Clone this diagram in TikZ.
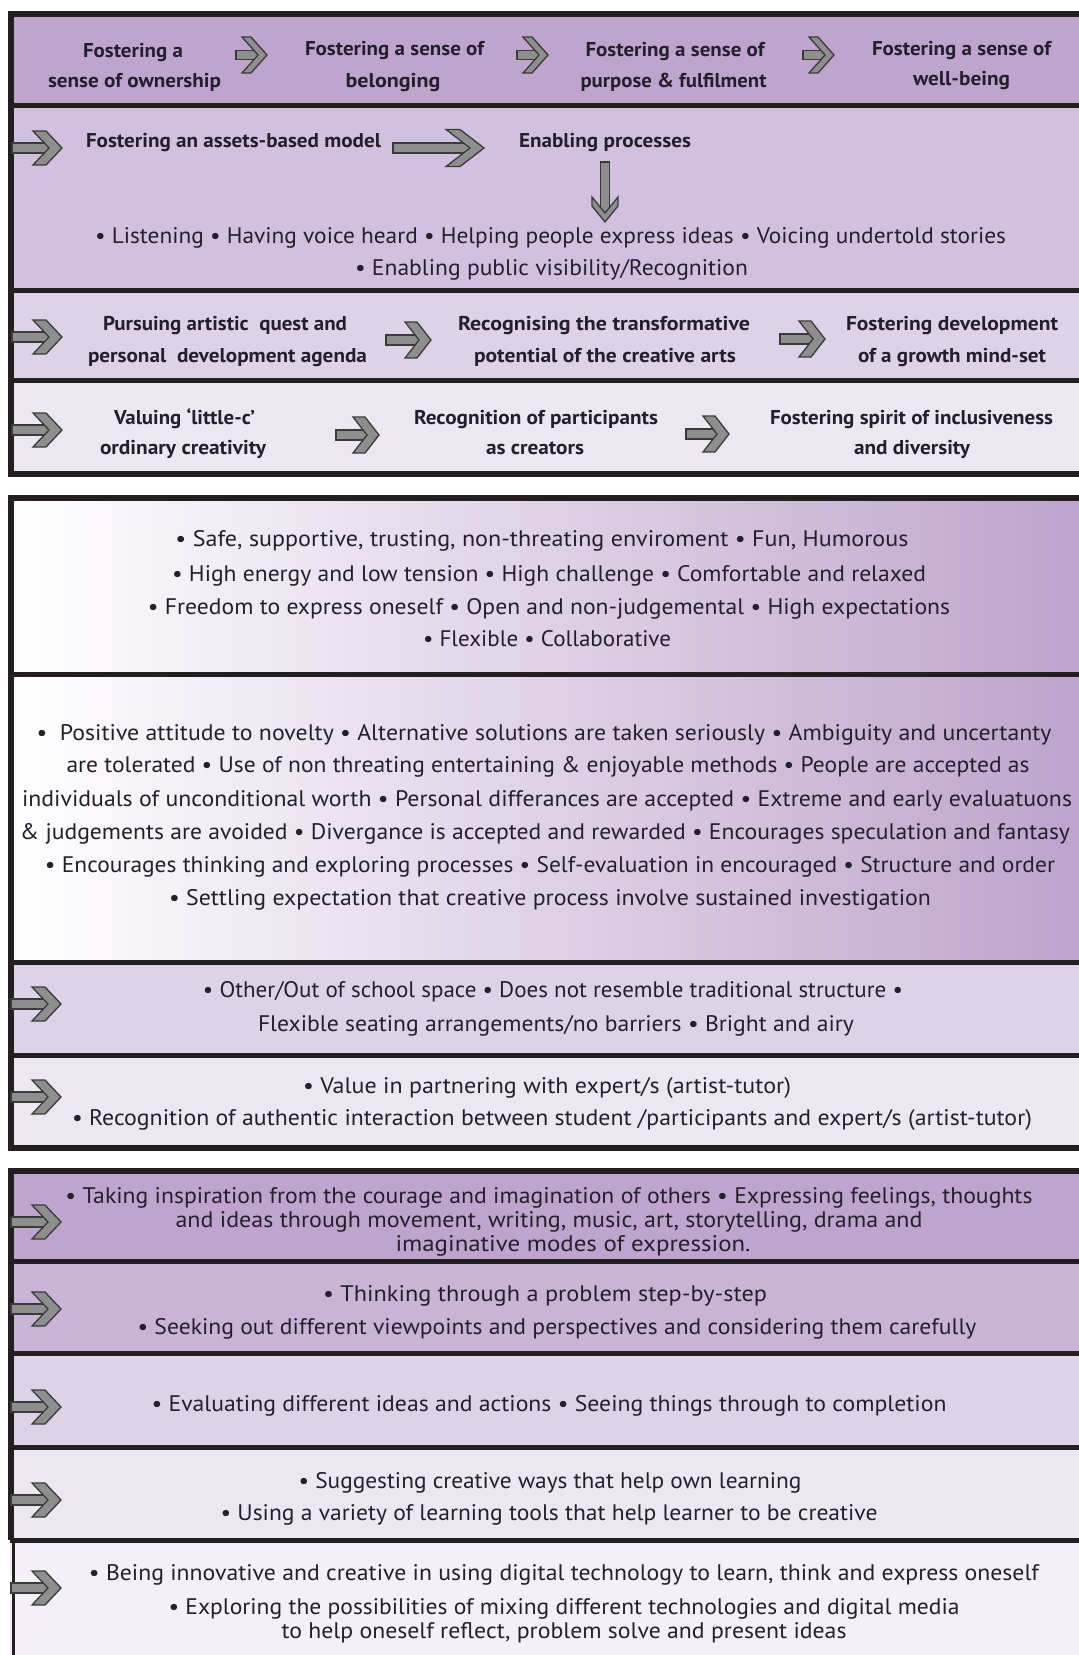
\documentclass[tikz,border=0pt]{standalone}
\usepackage{fontspec}
\usepackage{graphicx}
\setmainfont{PT Sans}
\usetikzlibrary{calc}

% Set a line of text and stretch it horizontally to a given width (in pt)
\newsavebox\fitbox
\newlength\fitdim
\newcommand\fitline[2]{\sbox\fitbox{#2}\setlength\fitdim{\wd\fitbox}%
  \pgfmathsetmacro\fitsx{#1/\fitdim}\scalebox{\fitsx}[1]{\usebox\fitbox}}

\definecolor{txt}{HTML}{241F2C}
\definecolor{frm}{HTML}{231F20}
\definecolor{cA}{HTML}{BFA5CE}
\definecolor{cB}{HTML}{D1C0DF}
\definecolor{cBb}{HTML}{C9B4D8}
\definecolor{cC}{HTML}{DED2E8}
\definecolor{cD}{HTML}{EDE7F2}
\definecolor{cE}{HTML}{F4F0F7}
\definecolor{gR}{HTML}{BDA2CC}
\definecolor{arF}{HTML}{8E8E8E}
\definecolor{arD}{HTML}{3A3A3A}

\tikzset{
  bt/.style={anchor=base, inner sep=0pt, text=txt, font=\bfseries\fontsize{20}{20}\selectfont},
  rt/.style={anchor=base, inner sep=0pt, text=txt, font=\fontsize{22.5}{22.5}\selectfont},
  outer/.style={draw=frm, line width=6pt},
  sepline/.style={draw=frm, line width=5pt},
  arrowline/.style={fill=arF, draw=arD, line width=1.3pt, line join=miter},
  % chevron arrow, tip at the origin pointing right:
  % total length / head half-height / head length / arm thickness / shaft half-thickness
  pics/chev/.style args={#1/#2/#3/#4/#5}{code={
    \filldraw[arrowline] (-#1,-#5) rectangle (-#4,#5);
    \filldraw[arrowline] (-#3,-#2) -- (-#3+#4,-#2) -- (0,0) -- (-#3+#4,#2)
      -- (-#3,#2) -- (-#4,0) -- cycle;
  }},
}

\begin{document}
\begin{tikzpicture}[x=1pt, y=-1pt]
\useasboundingbox (0,0) rectangle (1079,1655);
\fill[white] (0,0) rectangle (1079,1655);
\clip (0,0) rectangle (1079,1655);

% ---------- first panel ----------
\fill[cA] (10,13.5) rectangle (1100,105);
\fill[cB] (10,105) rectangle (1100,290);
\fill[cC] (10,290) rectangle (1100,380);
\fill[cD] (10,380) rectangle (1100,473.5);
\draw[sepline] (10,105) -- (1100,105);
\draw[sepline] (10,290) -- (1100,290);
\draw[sepline] (10,380) -- (1100,380);
\draw[outer] (1100,13.5) -- (10.5,13.5) -- (10.5,473.5) -- (1100,473.5);

% row 1
\node[bt] (r1a1) at (133,57) {\fitline{100}{Fostering a}};
\node[bt] (r1a2) at (134.5,87) {\fitline{173}{sense of ownership}};
\node[bt] (r1b1) at (394.5,55) {\fitline{179}{Fostering a sense of}};
\node[bt] (r1b2) at (393,87) {\fitline{95}{belonging}};
\node[bt] (r1c1) at (675,56) {\fitline{179}{Fostering a sense of}};
\node[bt] (r1c2) at (673.5,87) {\fitline{186}{purpose \& fulfilment}};
\node[bt] (r1d1) at (961.5,55) {\fitline{179}{Fostering a sense of}};
\node[bt] (r1d2) at (961.5,85) {\fitline{97}{well-being}};
\pic at (267,55) {chev=31/18/25/9/4.5};
\pic at (548,55) {chev=31/18/25/9/4.5};
\pic at (834,55) {chev=31/18/25/9/4.5};

% row 2
\pic at (62,148) {chev=50/17/29/13/5};
\node[bt] (r2a) at (233.5,147) {\fitline{295}{Fostering an assets-based model}};
\pic at (484,148) {chev=91/18.5/38/14/5};
\node[bt] (r2b) at (605,147) {\fitline{172}{Enabling processes}};
\pic[rotate=-90] at (605,222) {chev=60/13/25/9/4.5};
\node[rt] (r2c1) at (550.5,243) {\fitline{911}{• Listening • Having voice heard • Helping people express ideas • Voicing undertold stories}};
\node[rt] (r2c2) at (551.5,275) {\fitline{393}{• Enabling public visibility/Recognition}};

% row 3
\pic at (62,337) {chev=50/17/29/13/5};
\node[bt] (r3a1) at (225,330) {\fitline{244}{Pursuing artistic\ \ quest and}};
\node[bt] (r3a2) at (227.5,362) {\fitline{279}{personal\ \ development agenda}};
\pic at (431,340) {chev=45/18/26/12/5};
\node[bt] (r3b1) at (604,330) {\fitline{292}{Recognising the transformative}};
\node[bt] (r3b2) at (605,362) {\fitline{262}{potential of the creative arts}};
\pic at (825,339) {chev=45/18/26/12/5};
\node[bt] (r3c1) at (952,330) {\fitline{212}{Fostering development}};
\node[bt] (r3c2) at (952,362) {\fitline{188}{of a growth mind-set}};

% row 4
\pic at (62,430) {chev=50/17/29/13/5};
\node[bt] (r4a1) at (184.5,424) {\fitline{141}{Valuing ‘little-c’}};
\node[bt] (r4a2) at (183,454) {\fitline{166}{ordinary creativity}};
\pic at (379,435) {chev=43/18/26/12/5};
\node[bt] (r4b1) at (536,424) {\fitline{244}{Recognition of participants}};
\node[bt] (r4b2) at (535,454) {\fitline{98}{as creators}};
\pic at (729,434) {chev=43/18/26/12/5};
\node[bt] (r4c1) at (911.5,424) {\fitline{283}{Fostering spirit of inclusiveness}};
\node[bt] (r4c2) at (912,454) {\fitline{116}{and diversity}};

% ---------- second panel ----------
\shade[left color=white, right color=gR] (10,498) rectangle (1100,674);
\shade[left color=white, right color=gR] (10,674) rectangle (1100,962);
\fill[cC] (10,962) rectangle (1100,1055);
\fill[cD] (10,1055) rectangle (1100,1148);
\draw[sepline] (10,674) -- (1100,674);
\draw[sepline] (10,962) -- (1100,962);
\draw[sepline] (10,1055) -- (1100,1055);
\draw[outer] (1100,498) -- (10.5,498) -- (10.5,1148) -- (1100,1148);

\node[rt] (g1a) at (542,546) {\fitline{733}{• Safe, supportive, trusting, non-threating enviroment • Fun, Humorous}};
\node[rt] (g1b) at (549,581) {\fitline{754}{• High energy and low tension • High challenge • Comfortable and relaxed}};
\node[rt] (g1c) at (549,614) {\fitline{802}{• Freedom to express oneself • Open and non-judgemental • High expectations}};
\node[rt] (g1d) at (547,646) {\fitline{248}{• Flexible • Collaborative}};

\node[rt] (g2a) at (544,740) {\fitline{1015}{•\ \ Positive attitude to novelty • Alternative solutions are taken seriously • Ambiguity and uncertanty}};
\node[rt] (g2b) at (548,772) {\fitline{963}{are tolerated • Use of non threating entertaining \& enjoyable methods • People are accepted as}};
\node[rt] (g2c) at (547,806) {\fitline{1050}{individuals of unconditional worth • Personal differances are accepted • Extreme and early evaluatuons}};
\node[rt] (g2d) at (545,839) {\fitline{1050}{\& judgements are avoided • Divergance is accepted and rewarded • Encourages speculation and fantasy}};
\node[rt] (g2e) at (550,872) {\fitline{1010}{• Encourages thinking and exploring processes • Self-evaluation in encouraged • Structure and order}};
\node[rt] (g2f) at (550,905) {\fitline{762}{• Settling expectation that creative process involve sustained investigation}};

\pic at (61,1004) {chev=50/17/29/13/5};
\node[rt] (b3a) at (553,997) {\fitline{700}{• Other/Out of school space • Does not resemble traditional structure •}};
\node[rt] (b3b) at (556,1031) {\fitline{596}{Flexible seating arrangements/no barriers • Bright and airy}};
\pic at (61,1097) {chev=50/17/29/13/5};
\node[rt] (b4a) at (547,1093) {\fitline{488}{• Value in partnering with expert/s (artist-tutor)}};
\node[rt] (b4b) at (552,1125) {\fitline{960}{• Recognition of authentic interaction between student /participants and expert/s (artist-tutor)}};

% ---------- third panel ----------
\fill[cA] (10,1171) rectangle (1100,1261);
\fill[cBb] (10,1261) rectangle (1100,1353);
\fill[cC] (10,1353) rectangle (1100,1447);
\fill[cD] (10,1447) rectangle (1100,1540);
\fill[cE] (10,1540) rectangle (1100,1665);
\draw[sepline] (10,1261) -- (1100,1261);
\draw[sepline] (10,1353) -- (1100,1353);
\draw[sepline] (10,1447) -- (1100,1447);
\draw[sepline] (10,1540) -- (1100,1540);
\draw[outer] (1100,1171) -- (10.5,1171) -- (10.5,1540);
\draw[draw=frm, line width=3pt] (13,1540) -- (13,1665);

\pic at (61,1222) {chev=50/17/29/13/5};
\node[rt] (fa1) at (549,1203) {\fitline{967}{• Taking inspiration from the courage and imagination of others • Expressing feelings, thoughts}};
\node[rt] (fa2) at (549,1227) {\fitline{747}{and ideas through movement, writing, music, art, storytelling, drama and}};
\node[rt] (fa3) at (573,1251) {\fitline{355}{imaginative modes of expression.}};

\pic at (61,1309) {chev=50/17/29/13/5};
\node[rt] (fb1) at (545,1301) {\fitline{444}{• Thinking through a problem step-by-step}};
\node[rt] (fb2) at (557,1334) {\fitline{839}{• Seeking out different viewpoints and perspectives and considering them carefully}};

\pic at (61,1407) {chev=50/17/29/13/5};
\node[rt] (fc1) at (549,1411) {\fitline{795}{• Evaluating different ideas and actions • Seeing things through to completion}};

\pic at (61,1500) {chev=50/17/29/13/5};
\node[rt] (fd1) at (550,1488) {\fitline{503}{• Suggesting creative ways that help own learning}};
\node[rt] (fd2) at (549,1520) {\fitline{657}{• Using a variety of learning tools that help learner to be creative}};

\pic at (61,1588) {chev=50/17/29/13/5};
\node[rt] (fe1) at (564,1580) {\fitline{950}{• Being innovative and creative in using digital technology to learn, think and express oneself}};
\node[rt] (fe2) at (564,1614) {\fitline{791}{• Exploring the possibilities of mixing different technologies and digital media}};
\node[rt] (fe3) at (564,1638) {\fitline{565}{to help oneself reflect, problem solve and present ideas}};
\end{tikzpicture}
\end{document}
